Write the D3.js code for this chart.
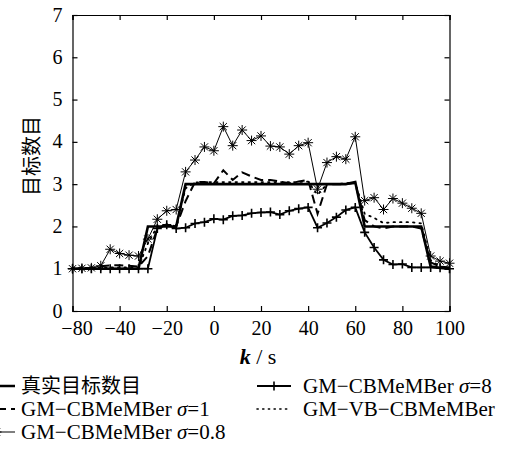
<!DOCTYPE html>
<html>
<head>
<meta charset="utf-8">
<script src="https://cdn.jsdelivr.net/npm/d3@7"></script>
<style>
  html, body { margin: 0; padding: 0; background: #fff; }
  svg { display: block; }
</style>
</head>
<body>
<svg id="chart" width="509" height="454"></svg>
<script>
// Sample times (s)
const times = [-60, -56, -52, -48, -44, -40, -36, -32, -28, -24, -20, -16, -12, -8, -4,
  0, 4, 8, 12, 16, 20, 24, 28, 32, 36, 40, 44, 48, 52, 56, 60, 64, 68, 72, 76, 80, 84, 88, 92, 96, 100];

// Estimated target counts per method
const trueCount = [1, 1, 1, 1, 1, 1, 1, 1, 2, 2, 2, 2, 3, 3, 3,
  3, 3, 3, 3, 3, 3, 3, 3, 3, 3, 3, 3, 3, 3, 3, 3.05, 2, 2, 2, 2, 2, 2, 2, 1.05, 1.02, 1];
const sigma8 = [1, 1, 1, 1, 1, 1, 1, 1, 1, 1.95, 2.04, 1.95, 1.97, 2.07, 2.1,
  2.18, 2.16, 2.25, 2.26, 2.31, 2.33, 2.34, 2.28, 2.37, 2.42, 2.45, 1.97, 2.08, 2.22, 2.39, 2.45, 1.86, 1.5, 1.21, 1.1, 1.11, 1.03, 1.03, 1.03, 1.02, 1];
const sigma1 = [1, 1, 1.02, 1.06, 1.08, 1.08, 1.07, 1.05, 1.3, 1.95, 2.05, 2.0, 2.6, 3.05, 3.05,
  3.02, 3.33, 3.1, 3.28, 3.18, 3.1, 3.1, 3.06, 3.02, 3.06, 3.1, 2.3, 3.0, 3.0, 3.0, 3.02, 2.15, 2.0, 1.95, 2.0, 2.0, 2.0, 1.95, 1.15, 1.05, 1.03];
const sigma08 = [1, 1.01, 1.02, 1.07, 1.46, 1.36, 1.32, 1.3, 1.7, 2.17, 2.37, 2.4, 3.29, 3.57, 3.88,
  3.79, 4.36, 3.91, 4.28, 4.03, 4.14, 3.9, 3.88, 3.71, 3.91, 3.98, 2.88, 3.51, 3.65, 3.59, 4.12, 2.61, 2.68, 2.4, 2.66, 2.55, 2.43, 2.31, 1.3, 1.18, 1.13];
const vbCount = [1.02, 1.02, 1.02, 1.02, 1.03, 1.03, 1.03, 1.03, 1.6, 2.0, 2.02, 2.0, 2.9, 3.04, 3.04,
  3.05, 3.05, 3.05, 3.05, 3.05, 3.05, 3.05, 3.05, 3.05, 3.05, 3.06, 2.75, 3.0, 3.0, 3.02, 3.04, 2.3, 2.2, 2.08, 2.1, 2.1, 2.1, 2.07, 1.2, 1.05, 1.02];

// Axis ticks and labels
const xTicks = [-60, -40, -20, 0, 20, 40, 60, 80, 100];
const xTickLabels = ["\u221280", "\u221240", "\u221220", "0", "20", "40", "60", "80", "100"];
const yTicks = [0, 1, 2, 3, 4, 5, 6, 7];

const legendLabels = ["真实目标数目", "GM\u2212CBMeMBer σ=1", "GM\u2212CBMeMBer σ=0.8", "GM\u2212CBMeMBer σ=8", "GM\u2212VB\u2212CBMeMBer"];

const SERIF = "Liberation Serif";
const CJK = "Noto Sans CJK SC";

const svg = d3.select("#chart");
const margin = { left: 72.5, right: 59.5, top: 15, bottom: 143 };
const W = 509, H = 454;
const x = d3.scaleLinear().domain([-60, 100]).range([margin.left, W - margin.right]);
const y = d3.scaleLinear().domain([0, 7]).range([H - margin.bottom, margin.top]);

const tickLen = 5;
// Axes with inward ticks on all four sides
const gx = svg.append("g").attr("transform", `translate(0,${y(0)})`)
  .call(d3.axisBottom(x).tickValues(xTicks).tickSize(-tickLen).tickPadding(10)
    .tickFormat((d, i) => xTickLabels[i]));
const gxTop = svg.append("g").attr("transform", `translate(0,${y(7)})`)
  .call(d3.axisTop(x).tickValues(xTicks).tickSize(-tickLen).tickFormat(""));
const gy = svg.append("g").attr("transform", `translate(${x(-60)},0)`)
  .call(d3.axisLeft(y).tickValues(yTicks).tickSize(-tickLen).tickPadding(10).tickFormat(d3.format("d")));
const gyRight = svg.append("g").attr("transform", `translate(${x(100)},0)`)
  .call(d3.axisRight(y).tickValues(yTicks).tickSize(-tickLen).tickFormat(""));

[gx, gxTop, gy, gyRight].forEach(g => {
  g.attr("font-family", SERIF).attr("font-size", 20);
  g.selectAll(".domain").attr("stroke", "#000").attr("stroke-width", 1.2);
  g.selectAll(".tick line").attr("stroke", "#000").attr("stroke-width", 1.2);
  g.selectAll(".tick text").attr("fill", "#000");
});
gx.selectAll(".tick text").attr("dy", "0.72em");
// first x label sits a little right so it clears the y-axis "0"
gx.selectAll(".tick text").filter((d, i) => i === 0).attr("dx", 4);
gy.selectAll(".tick text").attr("dy", "0.3em");

// Axis titles
svg.append("text")
  .attr("transform", "translate(39,156) rotate(-90)")
  .attr("text-anchor", "middle")
  .attr("font-family", CJK)
  .attr("font-size", 20)
  .text("目标数目");

const xt = svg.append("text").attr("x", 258).attr("y", 364).attr("text-anchor", "middle")
  .attr("font-family", SERIF).attr("font-size", 22);
xt.append("tspan").attr("font-style", "italic").attr("font-weight", "bold").text("k");
xt.append("tspan").text(" / s");

const line = vals => d3.line().x((d, i) => x(times[i])).y(d => y(d))(vals);

const plot = svg.append("g");

// Marker shapes
function plusMark(g, cx, cy, s) {
  g.append("path").attr("d", `M${cx - s},${cy}H${cx + s}M${cx},${cy - s}V${cy + s}`)
    .attr("stroke", "#000").attr("stroke-width", 1.6).attr("fill", "none");
}
function starMark(g, cx, cy, s) {
  const d = s * 0.72;
  g.append("path").attr("d",
    `M${cx - s},${cy}H${cx + s}M${cx},${cy - s}V${cy + s}M${cx - d},${cy - d}L${cx + d},${cy + d}M${cx - d},${cy + d}L${cx + d},${cy - d}`)
    .attr("stroke", "#000").attr("stroke-width", 1).attr("fill", "none");
}

// GM-VB-CBMeMBer: dotted
plot.append("path").attr("d", line(vbCount)).attr("fill", "none").attr("stroke", "#000")
  .attr("stroke-width", 1.8).attr("stroke-dasharray", "1.5,5").attr("stroke-linecap", "round");
// sigma = 1: dashed
plot.append("path").attr("d", line(sigma1)).attr("fill", "none").attr("stroke", "#000")
  .attr("stroke-width", 2).attr("stroke-dasharray", "9,5");
// sigma = 0.8: thin with asterisks
plot.append("path").attr("d", line(sigma08)).attr("fill", "none").attr("stroke", "#000").attr("stroke-width", 1);
sigma08.forEach((v, i) => starMark(plot, x(times[i]), y(v), 5));
// sigma = 8: with plus markers
plot.append("path").attr("d", line(sigma8)).attr("fill", "none").attr("stroke", "#000").attr("stroke-width", 1.8);
sigma8.forEach((v, i) => plusMark(plot, x(times[i]), y(v), 4.5));
// true count: thick solid
plot.append("path").attr("d", line(trueCount)).attr("fill", "none").attr("stroke", "#000").attr("stroke-width", 2.6);

// Legend
const leg = svg.append("g");
const rowsY = [386, 409, 432];
const colL = { x0: -22, x1: 15, tx: 21 };
const colR = { x0: 257, x1: 291, tx: 303 };

function legendText(xp, yp, label) {
  const t = leg.append("text").attr("x", xp).attr("y", yp).attr("dy", "0.35em")
    .attr("font-family", SERIF).attr("font-size", 21);
  const m = label.match(/^(.*)σ(.*)$/);
  if (label === legendLabels[0]) {
    t.attr("font-family", CJK).attr("font-size", 20).text(label);
  } else if (m) {
    t.append("tspan").text(m[1]);
    t.append("tspan").attr("font-style", "italic").text("σ");
    t.append("tspan").text(m[2]);
  } else {
    t.text(label);
  }
}

// true
leg.append("line").attr("x1", colL.x0).attr("x2", colL.x1).attr("y1", rowsY[0]).attr("y2", rowsY[0])
  .attr("stroke", "#000").attr("stroke-width", 2.4);
legendText(colL.tx, rowsY[0], legendLabels[0]);
// sigma = 1
leg.append("line").attr("x1", colL.x0).attr("x2", colL.x1).attr("y1", rowsY[1]).attr("y2", rowsY[1])
  .attr("stroke", "#000").attr("stroke-width", 2).attr("stroke-dasharray", "6,5");
legendText(colL.tx, rowsY[1], legendLabels[1]);
// sigma = 0.8
leg.append("line").attr("x1", colL.x0).attr("x2", colL.x1).attr("y1", rowsY[2]).attr("y2", rowsY[2])
  .attr("stroke", "#000").attr("stroke-width", 1.2);
starMark(leg, (colL.x0 + colL.x1) / 2, rowsY[2], 5);
legendText(colL.tx, rowsY[2], legendLabels[2]);
// sigma = 8
leg.append("line").attr("x1", colR.x0).attr("x2", colR.x1).attr("y1", rowsY[0]).attr("y2", rowsY[0])
  .attr("stroke", "#000").attr("stroke-width", 1.8);
plusMark(leg, (colR.x0 + colR.x1) / 2, rowsY[0], 4.5);
legendText(colR.tx, rowsY[0], legendLabels[3]);
// VB
leg.append("line").attr("x1", colR.x0).attr("x2", colR.x1).attr("y1", rowsY[1]).attr("y2", rowsY[1])
  .attr("stroke", "#000").attr("stroke-width", 1.6).attr("stroke-dasharray", "1.2,4.5").attr("stroke-linecap", "round");
legendText(colR.tx, rowsY[1], legendLabels[4]);
</script>
</body>
</html>
